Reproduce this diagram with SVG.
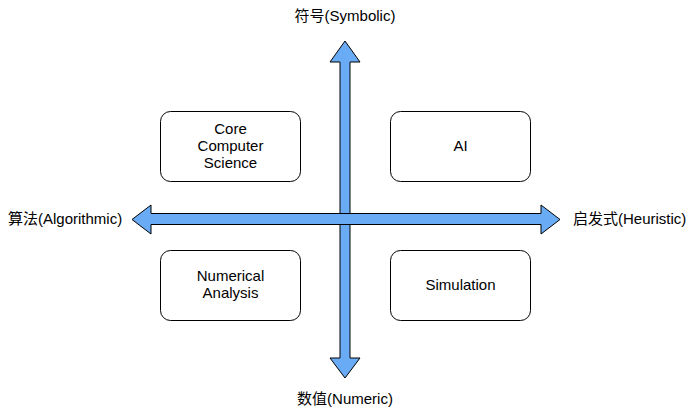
<svg xmlns="http://www.w3.org/2000/svg" width="691" height="412" viewBox="0 0 691 412">
<style>
.box{fill:#ffffff;stroke:#000000;stroke-width:1}
.arrow{fill:#6aabf5;stroke:#000000;stroke-width:1;stroke-linejoin:miter}
text{font-family:"Liberation Sans","Noto Sans CJK SC",Arial,sans-serif;font-size:15px;fill:#000000}
.c{text-anchor:middle}
</style>
<rect width="691" height="412" fill="#ffffff"/>
<g id="connectors">
<path class="arrow" d="M345,41 L360,62 L350,62 L350,358 L360,358 L345,378 L330,358 L340,358 L340,62 L330,62 Z"/>
<path class="arrow" d="M132,219.5 L151,205 L151,213.5 L541,213.5 L541,205 L560,219.5 L541,234 L541,224.5 L151,224.5 L151,234 Z"/>
</g>
<g id="node-core">
<rect class="box" x="160.5" y="111.5" width="140" height="70" rx="10"/>
<text class="c" x="230.5" y="134">Core</text>
<text class="c" x="230.5" y="151">Computer</text>
<text class="c" x="230.5" y="168">Science</text>
</g>
<g id="node-ai">
<rect class="box" x="390.5" y="111.5" width="140" height="70" rx="10"/>
<text class="c" x="460.5" y="151">AI</text>
</g>
<g id="node-numerical">
<rect class="box" x="160.5" y="250.5" width="140" height="70" rx="10"/>
<text class="c" x="230.5" y="281">Numerical</text>
<text class="c" x="230.5" y="298">Analysis</text>
</g>
<g id="node-simulation">
<rect class="box" x="390.5" y="250.5" width="140" height="70" rx="10"/>
<text class="c" x="460.5" y="290">Simulation</text>
</g>
<g id="labels">
<text class="c" x="345" y="21">符号(Symbolic)</text>
<text class="c" x="345" y="404">数值(Numeric)</text>
<text x="8" y="224">算法(Algorithmic)</text>
<text x="573" y="224">启发式(Heuristic)</text>
</g>
</svg>
